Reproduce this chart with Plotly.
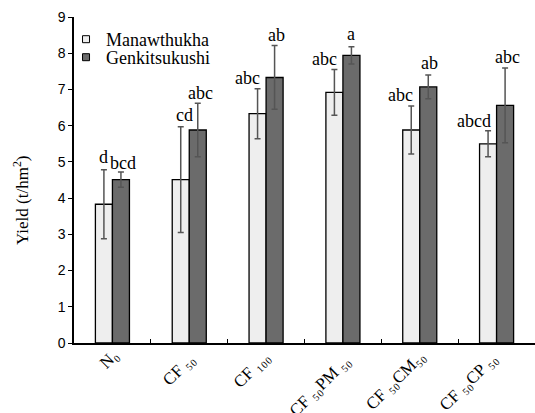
import plotly.graph_objects as go

categories = ["N₀", "CF ₅₀", "CF ₁₀₀", "CF ₅₀PM ₅₀", "CF ₅₀CM₅₀", "CF ₅₀CP ₅₀"]
manaw = [3.83, 4.51, 6.33, 6.92, 5.88, 5.50]
manaw_err = [0.95, 1.46, 0.69, 0.63, 0.66, 0.36]
genki = [4.51, 5.88, 7.33, 7.94, 7.07, 6.56]
genki_err = [0.21, 0.74, 0.88, 0.24, 0.33, 1.03]
manaw_letters = ["d", "cd", "abc", "abc", "abc", "abcd"]
genki_letters = ["bcd", "abc", "ab", "a", "ab", "abc"]

# label placement (pixels) relative to group centre / error-bar top / axis
light_dx = [-8.5, -5, -19, -18, -19, -23]
dark_dx = [10.5, 11, 10, 8, 10, 10.5]
light_dy = [6, 5, 4, 4, 4, 2.7]
dark_dy = [1.6, 3, 4, 6, 5, 4.3]
tick_dx = [10.6, 10.8, 8.9, 13, 10.1, 6.2]
tick_dy = [-2, -5, -3, -7, -3, -5]

LIGHT = "#eeeeee"
DARK = "#6b6b6b"
SERIF = "Liberation Serif, DejaVu Serif, Times New Roman, serif"
SANS = "Liberation Sans, Arial, sans-serif"

W, H = 535, 413
ML, MR, MT, MB = 74, 0, 17, 70
plot_w, plot_h = W - ML - MR, H - MT - MB

fig = go.Figure()
err_style = dict(type="data", visible=True, color="#555555", thickness=1.5, width=3)
fig.add_trace(go.Bar(x=categories, y=manaw, name="Manawthukha", showlegend=False,
                     marker=dict(color=LIGHT, line=dict(color="black", width=1.3)),
                     error_y=dict(array=manaw_err, **err_style)))
fig.add_trace(go.Bar(x=categories, y=genki, name="Genkitsukushi", showlegend=False,
                     marker=dict(color=DARK, line=dict(color="black", width=1.3)),
                     error_y=dict(array=genki_err, **err_style)))
# legend entries (two single-item legends for tight row spacing)
for nm, col, lg in [("Manawthukha", LIGHT, "legend"), ("Genkitsukushi", DARK, "legend2")]:
    fig.add_trace(go.Scatter(x=[None], y=[None], mode="markers", name=nm, legend=lg,
                             marker=dict(symbol="square", size=7, color=col,
                                         line=dict(color="black", width=1))))
# invisible trace on the overlay axis used for boundary ticks
fig.add_trace(go.Scatter(x=[None], y=[None], xaxis="x2", showlegend=False, hoverinfo="skip"))

ann = []
for i, c in enumerate(categories):
    ann.append(dict(x=c, y=manaw[i] + manaw_err[i], xref="x", yref="y", text=manaw_letters[i],
                    showarrow=False, xanchor="center", yanchor="bottom",
                    xshift=light_dx[i], yshift=light_dy[i] - 4, borderpad=0,
                    font=dict(family=SERIF, size=18, color="black")))
    ann.append(dict(x=c, y=genki[i] + genki_err[i], xref="x", yref="y", text=genki_letters[i],
                    showarrow=False, xanchor="center", yanchor="bottom",
                    xshift=dark_dx[i], yshift=dark_dy[i] - 4, borderpad=0,
                    font=dict(family=SERIF, size=18, color="black")))
    # rotated category label
    ann.append(dict(x=c, y=0, xref="x", yref="paper", text=c, textangle=-45,
                    showarrow=False, xanchor="right", yanchor="top",
                    xshift=tick_dx[i], yshift=tick_dy[i], borderpad=0,
                    font=dict(family=SERIF, size=17, color="black")))
ann.append(dict(x=(21 - ML) / plot_w, y=(H - MB - 200) / plot_h, xref="paper", yref="paper",
                text="Yield (t/hm<sup>2</sup>)", xanchor="center", yanchor="middle",
                showarrow=False, textangle=-90, font=dict(family=SERIF, size=17, color="black")))

leg_common = dict(xanchor="left", yanchor="top", bgcolor="rgba(0,0,0,0)",
                  font=dict(family=SERIF, size=18, color="black"), itemsizing="trace")
leg_top = 1.0 - 4 / plot_h
leg_x = -0.0173
fig.update_layout(
    width=W, height=H,
    margin=dict(l=ML, r=MR, t=MT, b=MB),
    paper_bgcolor="white", plot_bgcolor="white",
    barmode="group", bargap=0.557, bargroupgap=0,
    legend=dict(x=leg_x, y=leg_top, **leg_common),
    legend2=dict(x=leg_x, y=leg_top - 18 / plot_h, **leg_common),
    annotations=ann,
    xaxis=dict(type="category", ticks="", showline=True, linecolor="black", linewidth=1.5,
               showgrid=False, showticklabels=False, automargin=False),
    xaxis2=dict(overlaying="x", range=[-0.5, 5.5], tickvals=[0.5, 1.5, 2.5, 3.5, 4.5],
                ticks="inside", ticklen=4, tickcolor="black", tickwidth=1,
                showticklabels=False, showline=False, showgrid=False, zeroline=False,
                automargin=False),
    yaxis=dict(range=[0, 9], dtick=1, ticks="outside", ticklen=4, tickcolor="black",
               showline=True, linecolor="black", linewidth=1.5, showgrid=False, zeroline=False,
               automargin=False, tickfont=dict(family=SANS, size=14, color="black")),
)

fig.write_html("out.html", config={"displayModeBar": False},
               post_script="document.body.style.margin='0';document.body.style.overflow='hidden';")
